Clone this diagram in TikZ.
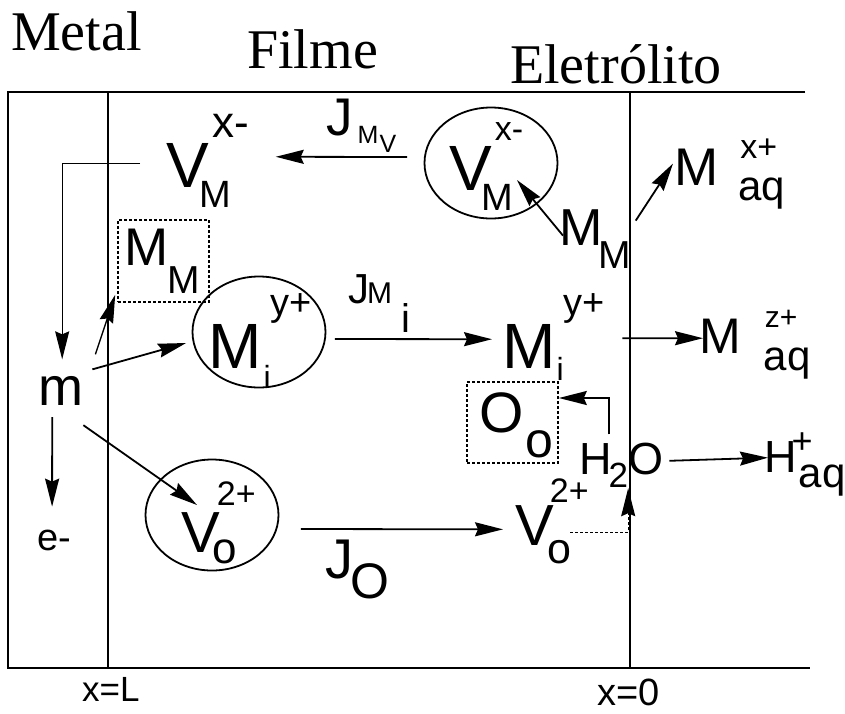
\documentclass[tikz,border=0pt]{standalone}
\usepackage{fontspec}
\setmainfont{Liberation Serif}
\setsansfont{Liberation Sans}
\usetikzlibrary{shapes.geometric, arrows.meta}

\newcommand{\fs}[1]{\fontsize{#1}{#1}\selectfont}
% kern, drop, size, text (no width)
\newcommand{\ionsub}[4]{\rlap{\kern#1pt\raisebox{-#2pt}{\fs{#3pt}#4}}}
% kern, raise, size, text
\newcommand{\ionsup}[4]{\kern#1pt\raisebox{#2pt}{\fs{#3pt}#4}}

\begin{document}
\begin{tikzpicture}[
		x=1pt, y=-1pt,
		% Styles
		species/.style={font=\sffamily, inner sep=0pt, anchor=base west},
		heading/.style={font=\rmfamily\fs{56pt}, inner sep=0pt, anchor=base west},
		ring/.style={draw, ellipse, line width=1.8pt, minimum width=133pt, minimum height=111pt, inner sep=0pt},
		boxed/.style={draw, densely dashed, line width=1.6pt, inner sep=0pt},
		frame/.style={line width=2.2pt},
		arrow/.style={-{Stealth[length=28pt, width=14pt, inset=3pt]}, line width=1.8pt}
		]
		\useasboundingbox (0,0) rectangle (845,713);
		
		% =========================================================
		% 1. FRAME: metal | film | electrolyte
		% =========================================================
		\draw[frame] (805,92) -- (8,92) -- (8,668) -- (810,668);
		\draw[frame] (108,92) -- (108,668);
		\draw[frame] (630,92) -- (630,668);
		
		\node[heading] (metal) at (11,50) {Metal};
		\node[heading] (filme) at (247,68) {Filme};
		\node[heading] (eletro) at (510,83) {Eletrólito};
		
		\node[species, font=\sffamily\fs{35pt}] (xL) at (82,701) {x=L};
		\node[species, font=\sffamily\fs{38pt}] (x0) at (597,705) {x=0};
		
		% =========================================================
		% 2. RINGS AND BOXES
		% =========================================================
		\node[ring] (ringVM) at (491,163) {};
		\node[ring] (ringMi) at (259,332) {};
		\node[ring] (ringVo) at (212,515) {};
		\node[boxed, minimum width=91pt, minimum height=82pt] (MMbox) at (163.5,261) {};
		\node[boxed, minimum width=91pt, minimum height=81pt] (Oobox) at (512.5,422.5) {};
		
		% =========================================================
		% 3. SPECIES
		% =========================================================
		\node[species] (VMf) at (166,187) {\fs{64pt}V\ionsub{-9}{20}{38}{M}\ionsup{4}{50}{44}{x-}};
		\node[species] (VMs) at (449,190) {\fs{64pt}V\ionsub{-10}{20}{38}{M}\ionsup{3}{50}{34}{x-}};
		\node[species] (MMr) at (559,245) {\fs{52pt}M\ionsub{-4}{23}{39}{M}};
		\node[species] (Maqx) at (674,185) {\fs{53pt}M\ionsub{20}{15}{42}{aq}\ionsup{22}{27}{34}{x+}};
		\node[species] (MMl) at (124,265) {\fs{53pt}M\ionsub{-1}{28}{39}{M}};
		\node[species] (m) at (38.5,405) {\fs{54pt}m};
		\node[species] (em) at (37,550) {\fs{38pt}e-};
		\node[species] (Mic) at (208,368) {\fs{64pt}M\ionsub{2}{20}{32}{i}\ionsup{9}{53}{38}{y+}};
		\node[species] (Mir) at (502,368) {\fs{64pt}M\ionsub{1}{12}{32}{i}\ionsup{8}{53}{38}{y+}};
		\node[species] (Maqz) at (699,353) {\fs{50pt}M\ionsub{23}{17}{42}{aq}\ionsup{24}{26}{30}{z+}};
		\node[species] (Oo) at (479,432) {\fs{57pt}O\ionsub{2}{25}{50}{o}};
		\node[species] (H2O) at (579,474) {\fs{45pt}H\ionsup{-3}{-13}{35}{2}O};
		\node[species] (Haq) at (764,472) {\fs{45pt}H\ionsub{2}{15}{42}{aq}\ionsup{-5}{19}{36}{+}};
		\node[species] (Vol) at (181,552) {\fs{58pt}V\ionsub{-7}{11}{44}{o}\ionsup{-3}{47}{34}{2+}};
		\node[species] (Vor) at (515,545) {\fs{58pt}V\ionsub{-6}{18}{43}{o}\ionsup{-4}{43}{34}{2+}};
		
		% Flux labels
		\node[species] (JMv) at (326,135) {\fs{53pt}J\ionsup{5}{-8}{25}{M}\ionsup{1}{-17}{25}{V}};
		\node[species] (JMi) at (348,303) {\fs{42pt}J\ionsup{-2}{0}{30}{M}\ionsup{9}{-29}{40}{i}};
		\node[species] (JO) at (325,578) {\fs{56pt}J\ionsup{-3}{-20}{50}{O}};
		
		% =========================================================
		% 4. ARROWS
		% =========================================================
		\draw[arrow] ([shift={(-16.5,-6)}]ringVM.west) -- ([shift={(26,-3.6)}]VMf.east);
		\draw[arrow] ([shift={(4,-3)}]MMr.west) -- ([shift={(26,17)}]ringVM.center);
		\draw[arrow] ([shift={(33,-18)}]MMr.east) -- ([shift={(-1,-10)}]Maqx.west);
		
		\draw[arrow, line width=1.3pt] ([shift={(-26,3)}]VMf.west) -| ([shift={(1,-16.4)}]m.north);
		\draw[arrow] ([shift={(-9,12)}]m.south) -- ([shift={(-2,-22.7)}]em.north);
		\draw[arrow, line width=1.3pt] ([shift={(11.5,-21.4)}]m.north east) -- ([shift={(-2,-8)}]MMbox.south west);
		\draw[arrow] ([shift={(8.5,-6.4)}]m.north east) -- ([shift={(-5.5,11)}]ringMi.west);
		\draw[arrow] ([shift={(-0.5,20)}]m.south east) -- ([shift={(-15,-10)}]ringVo.center);
		
		\draw[arrow] ([shift={(8.5,7)}]ringMi.east) -- ([shift={(-10,2.7)}]Mir.west);
		\draw[arrow] ([shift={(17.5,1.7)}]Mir.east) -- ([shift={(4,-6)}]Maqz.west);
		
		\draw[arrow] ([shift={(-12,-8)}]H2O.north) |- ([shift={(0,-24.5)}]Oobox.east);
		\draw[arrow] ([shift={(6,-4)}]H2O.east) -- ([shift={(4,-6.3)}]Haq.west);
		
		\draw[arrow] ([shift={(21.5,14)}]ringVo.east) -- ([shift={(-12,8.5)}]Vor.west);
		\draw[arrow, densely dashed, line width=1.3pt] ([shift={(-18.8,11.5)}]Vor.east) -| ([shift={(7,1)}]H2O.south);
		
	\end{tikzpicture}
\end{document}
